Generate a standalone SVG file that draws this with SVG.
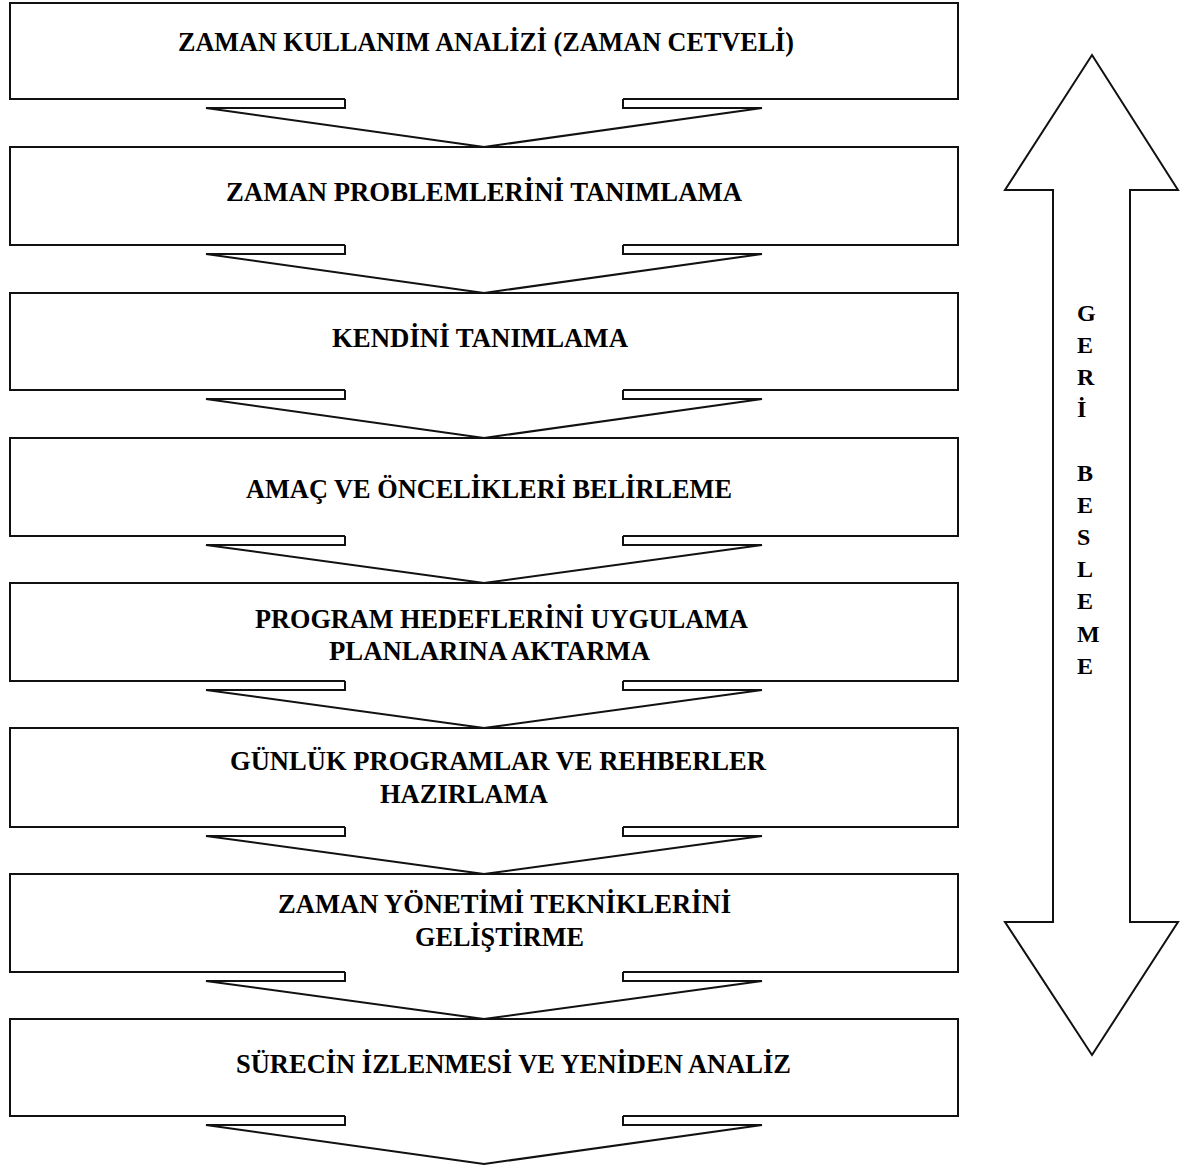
<svg xmlns="http://www.w3.org/2000/svg" width="1186" height="1166" viewBox="0 0 1186 1166">
<defs>
<style>
.box{fill:#fff;stroke:#111;stroke-width:2}
.t{font-family:"Liberation Serif","Times New Roman",serif;font-weight:bold;font-size:26.5px;fill:#000}
.s{font-family:"Liberation Serif","Times New Roman",serif;font-weight:bold;font-size:24px;fill:#000}
.af{fill:#fff;stroke:none}
.al{fill:none;stroke:#111;stroke-width:2;stroke-linejoin:miter}
.big{fill:#fff;stroke:#111;stroke-width:2;stroke-linejoin:miter}
</style>
</defs>
<rect x="0" y="0" width="1186" height="1166" fill="#fff"/>
<g id="n1"><rect class="box" x="10" y="3" width="948" height="96"/><text class="t" x="178" y="51" textLength="616" lengthAdjust="spacingAndGlyphs">ZAMAN KULLANIM ANALİZİ (ZAMAN CETVELİ)</text></g>
<g id="n2"><rect class="box" x="10" y="147" width="948" height="98"/><text class="t" x="226" y="201" textLength="516" lengthAdjust="spacingAndGlyphs">ZAMAN PROBLEMLERİNİ TANIMLAMA</text></g>
<g id="n3"><rect class="box" x="10" y="293" width="948" height="97"/><text class="t" x="332" y="347" textLength="296" lengthAdjust="spacingAndGlyphs">KENDİNİ TANIMLAMA</text></g>
<g id="n4"><rect class="box" x="10" y="438" width="948" height="98"/><text class="t" x="246" y="498" textLength="486" lengthAdjust="spacingAndGlyphs">AMAÇ VE ÖNCELİKLERİ BELİRLEME</text></g>
<g id="n5"><rect class="box" x="10" y="583" width="948" height="98"/><text class="t" x="255" y="628" textLength="493" lengthAdjust="spacingAndGlyphs">PROGRAM HEDEFLERİNİ UYGULAMA</text><text class="t" x="329" y="660" textLength="321" lengthAdjust="spacingAndGlyphs">PLANLARINA AKTARMA</text></g>
<g id="n6"><rect class="box" x="10" y="728" width="948" height="99"/><text class="t" x="230" y="770" textLength="536" lengthAdjust="spacingAndGlyphs">GÜNLÜK PROGRAMLAR VE REHBERLER</text><text class="t" x="380" y="803">HAZIRLAMA</text></g>
<g id="n7"><rect class="box" x="10" y="874" width="948" height="98"/><text class="t" x="278" y="913" textLength="453" lengthAdjust="spacingAndGlyphs">ZAMAN YÖNETİMİ TEKNİKLERİNİ</text><text class="t" x="415" y="946" textLength="169" lengthAdjust="spacingAndGlyphs">GELİŞTİRME</text></g>
<g id="n8"><rect class="box" x="10" y="1019" width="948" height="97"/><text class="t" x="236" y="1073" textLength="555" lengthAdjust="spacingAndGlyphs">SÜRECİN İZLENMESİ VE YENİDEN ANALİZ</text></g>
<g id="feedback">
<polygon class="big" points="1092,55 1178,190 1130,190 1130,922 1178,922 1092,1055 1005,922 1053,922 1053,190 1005,190"/>
<text class="s" x="1077" y="321">G</text>
<text class="s" x="1077" y="353">E</text>
<text class="s" x="1077" y="385">R</text>
<text class="s" x="1077" y="417">İ</text>
<text class="s" x="1077" y="481">B</text>
<text class="s" x="1077" y="513">E</text>
<text class="s" x="1077" y="545">S</text>
<text class="s" x="1077" y="577">L</text>
<text class="s" x="1077" y="609">E</text>
<text class="s" x="1077" y="642">M</text>
<text class="s" x="1077" y="674">E</text>
</g>
<g id="connectors">
<polygon class="af" points="345,97 345,108 206,108 484,147 762,108 623,108 623,97"/>
<polyline class="al" points="345,99 345,108 206,108 484,147 762,108 623,108 623,99"/>
<polygon class="af" points="345,243 345,254 206,254 484,293 762,254 623,254 623,243"/>
<polyline class="al" points="345,245 345,254 206,254 484,293 762,254 623,254 623,245"/>
<polygon class="af" points="345,388 345,399 206,399 484,438 762,399 623,399 623,388"/>
<polyline class="al" points="345,390 345,399 206,399 484,438 762,399 623,399 623,390"/>
<polygon class="af" points="345,534 345,545 206,545 484,583 762,545 623,545 623,534"/>
<polyline class="al" points="345,536 345,545 206,545 484,583 762,545 623,545 623,536"/>
<polygon class="af" points="345,679 345,690 206,690 484,728 762,690 623,690 623,679"/>
<polyline class="al" points="345,681 345,690 206,690 484,728 762,690 623,690 623,681"/>
<polygon class="af" points="345,825 345,836 206,836 484,874 762,836 623,836 623,825"/>
<polyline class="al" points="345,827 345,836 206,836 484,874 762,836 623,836 623,827"/>
<polygon class="af" points="345,970 345,981 206,981 484,1019 762,981 623,981 623,970"/>
<polyline class="al" points="345,972 345,981 206,981 484,1019 762,981 623,981 623,972"/>
<polygon class="af" points="345,1114 345,1125 206,1125 484,1164 762,1125 623,1125 623,1114"/>
<polyline class="al" points="345,1116 345,1125 206,1125 484,1164 762,1125 623,1125 623,1116"/>
</g>
</svg>
